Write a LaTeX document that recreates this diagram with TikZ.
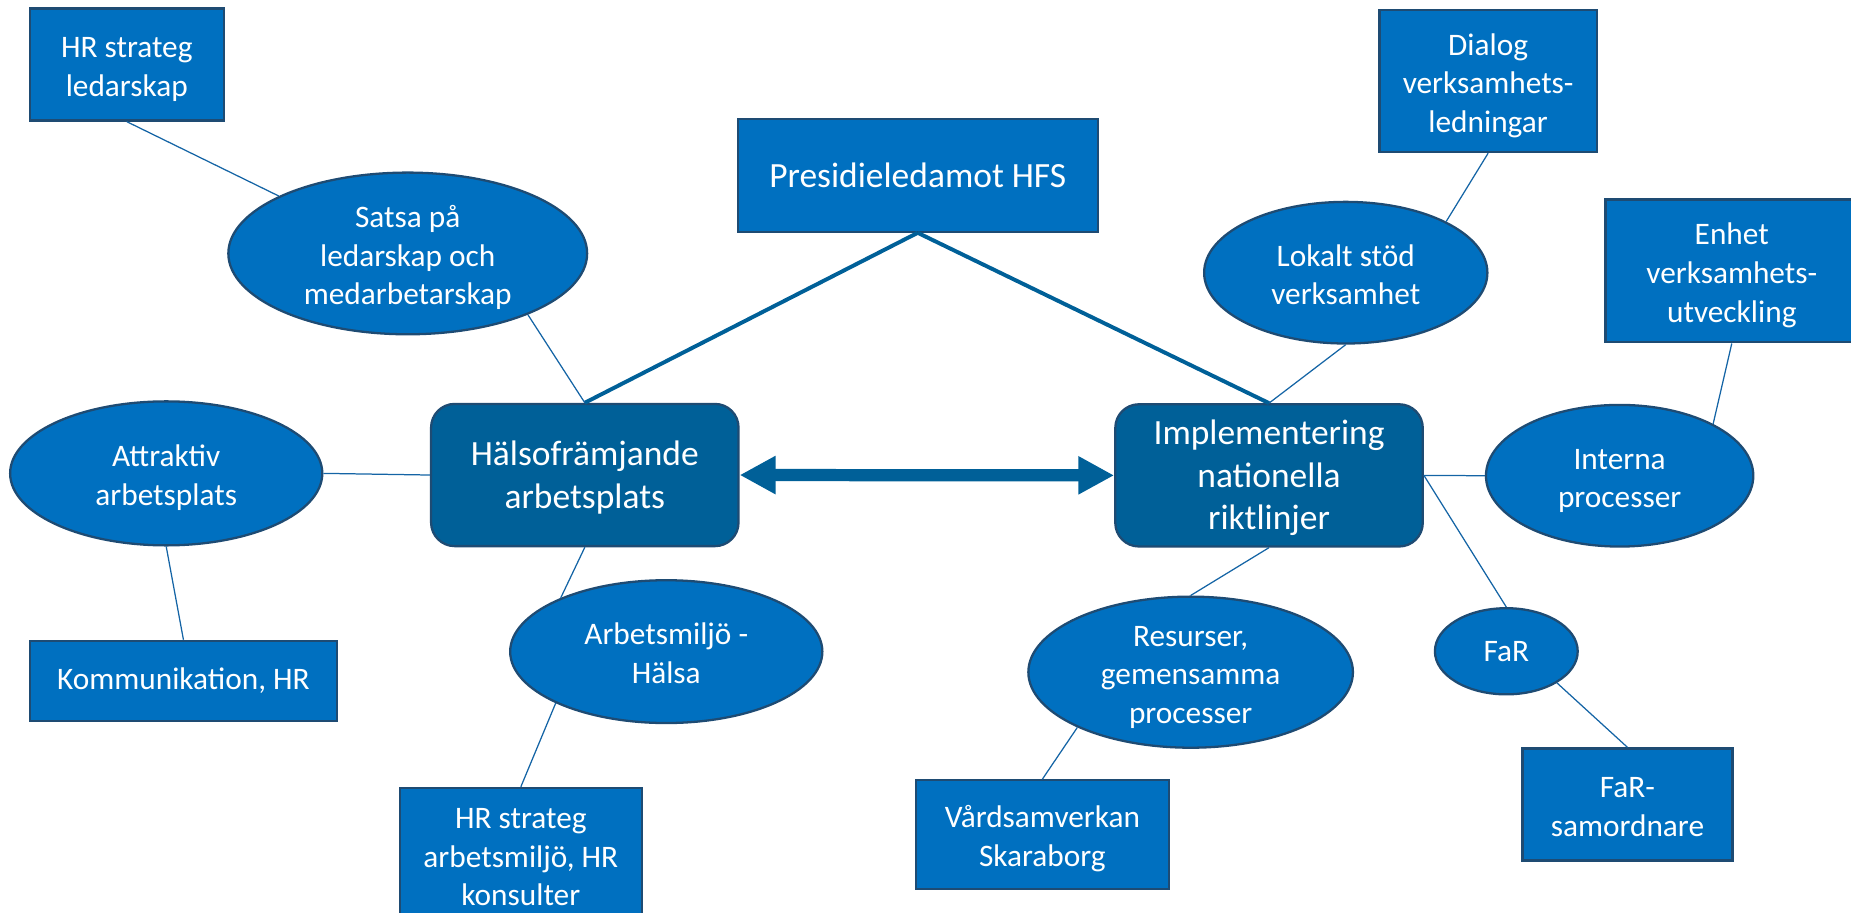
\documentclass[tikz,border=0pt]{standalone}
\usepackage{fontspec}
\setmainfont{Carlito}
\usetikzlibrary{shapes.geometric,arrows.meta}
\definecolor{boxblue}{RGB}{0,112,192}
\definecolor{rimblue}{RGB}{30,75,115}
\definecolor{mainblue}{RGB}{0,96,152}
\definecolor{lineblue}{RGB}{20,100,165}
\newcommand{\lns}[1]{\smash{\raisebox{-0.21cm}{\begin{tabular}{@{}c@{}}#1\end{tabular}}}}

\begin{document}
\begin{tikzpicture}[x=0.02cm,y=-0.02cm,>={Triangle[length=17.3pt,width=17.3pt]},
  box/.style={rectangle,draw=rimblue,line width=1.1pt,fill=boxblue,text=white,inner sep=0pt,font=\fontsize{15.1}{18.6}\selectfont},
  oval/.style={ellipse,draw=rimblue,line width=1.1pt,fill=boxblue,text=white,inner sep=0pt,font=\fontsize{15.1}{18.6}\selectfont},
  main/.style={rectangle,rounded corners=0.4cm,draw=rimblue,line width=1.1pt,fill=mainblue,text=white,inner sep=0pt,
    font=\fontsize{17.1}{20.4}\selectfont,minimum width=5.21cm,minimum height=2.41cm},
  conn/.style={draw=lineblue,line width=0.6pt},
  connthick/.style={draw=mainblue,line width=1.9pt},
  dbl/.style={draw=mainblue,line width=5.9pt,<->}]
	\useasboundingbox (0,0) rectangle (1568,773);
	\clip (0,0) rectangle (1568,773);

	\node[box,minimum width=3.29cm,minimum height=1.9cm] (hrled) at (107.4,54.6) {\lns{HR strateg\\ledarskap}};
	\node[oval,minimum width=6.08cm,minimum height=2.74cm] (satsa) at (345.4,214.7) {\lns{Satsa på\\ledarskap och\\medarbetarskap}};
	\node[box,minimum width=6.1cm,minimum height=1.91cm,font=\fontsize{17.1}{20.4}\selectfont] (pres) at (777.4,148.5) {Presidieledamot HFS};
	\node[main] (halso) at (495.4,402.4) {\lns{Hälsofrämjande\\arbetsplats}};
	\node[main] (impl) at (1075,402.7) {\lns{Implementering\\nationella\\riktlinjer}};
	\node[oval,minimum width=5.29cm,minimum height=2.44cm] (attr) at (140.8,401) {\lns{Attraktiv\\arbetsplats}};
	\node[box,minimum width=5.21cm,minimum height=1.36cm] (komm) at (155.4,576.9) {Kommunikation, HR};
	\node[oval,minimum width=5.29cm,minimum height=2.42cm] (arbm) at (564.4,552) {\lns{Arbetsmiljö -\\Hälsa}};
	\node[box,minimum width=4.1cm,minimum height=2.26cm] (hrarb) at (441.2,724) {\lns{HR strateg\\arbetsmiljö, HR\\konsulter}};
	\node[oval,minimum width=5.5cm,minimum height=2.56cm] (resur) at (1008.6,569.4) {\lns{Resurser,\\gemensamma\\processer}};
	\node[box,minimum width=4.28cm,minimum height=1.84cm] (vard) at (883,707) {\lns{Vårdsamverkan\\Skaraborg}};
	\node[oval,minimum width=4.8cm,minimum height=2.4cm] (lokalt) at (1140,231) {\lns{Lokalt stöd\\verksamhet}};
	\node[box,minimum width=3.68cm,minimum height=2.41cm] (dialog) at (1260.6,68.6) {\lns{Dialog\\verksamhets-\\ledningar}};
	\node[box,minimum width=4.28cm,minimum height=2.42cm] (enhet) at (1467,229.5) {\lns{Enhet\\verksamhets-\\utveckling}};
	\node[oval,minimum width=4.53cm,minimum height=2.4cm] (interna) at (1372,403) {\lns{Interna\\processer}};
	\node[oval,minimum width=2.42cm,minimum height=1.46cm] (far) at (1276,551.7) {FaR};
	\node[box,minimum width=3.56cm,minimum height=1.9cm] (farsam) at (1378.6,681.5) {\lns{FaR-\\samordnare}};

	\draw[connthick] (pres.south) -- (halso.north);
	\draw[connthick] (pres.south) -- (impl.north);
	\draw[dbl] (halso.east) -- (impl.west);
	\draw[conn] (hrled.south) -- (satsa.156);
	\draw[conn] (satsa.-27) -- (halso.north);
	\draw[conn] (attr.east) -- (halso.west);
	\draw[conn] (attr.south) -- (komm.north);
	\draw[conn] (halso.south) -- (arbm.153);
	\draw[conn] (arbm.205) -- (hrarb.north);
	\draw[conn] (impl.south) -- (resur.north);
	\draw[conn] (resur.206) -- (vard.north);
	\draw[conn] (dialog.south) -- (lokalt.27);
	\draw[conn] (lokalt.south) -- (impl.north);
	\draw[conn] (enhet.south) -- (interna.29);
	\draw[conn] (impl.east) -- (interna.west);
	\draw[conn] (impl.east) -- (far.north);
	\draw[conn] (far.-32) -- (farsam.north);
\end{tikzpicture}
\end{document}
